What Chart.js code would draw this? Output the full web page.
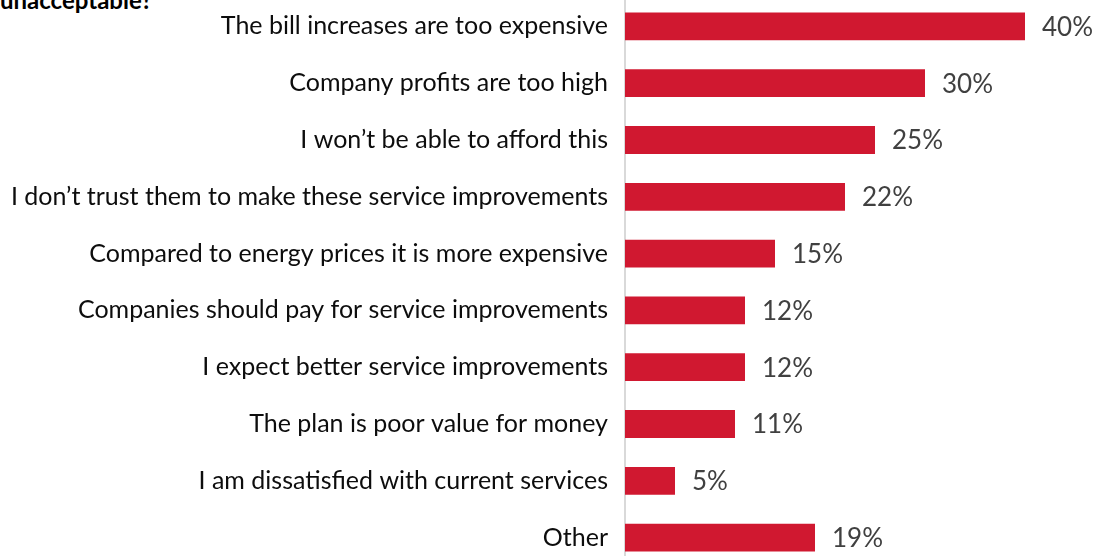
<!DOCTYPE html>
<html>
<head>
<meta charset="utf-8">
<script src="https://cdn.jsdelivr.net/npm/chart.js@4.4.1/dist/chart.umd.min.js"></script>
<style>
  html, body { margin: 0; padding: 0; background: #fff; }
  #wrap { position: relative; width: 1110px; height: 556px; overflow: hidden; }
  #title { position: absolute; left: 0; top: -12px; font: bold 24px Lato, sans-serif; line-height: 24px; color: #000; white-space: nowrap; }
  #chart { position: absolute; left: 0; top: -2px; }
</style>
</head>
<body>
<div id="wrap">
  <div id="title">unacceptable?</div>
  <canvas id="chart" width="1110" height="568"></canvas>
</div>
<script>
// reasons given, top to bottom
var reasons = [
    'The bill increases are too expensive',
    'Company profits are too high',
    'I won\u2019t be able to afford this',
    'I don\u2019t trust them to make these service improvements',
    'Compared to energy prices it is more expensive',
    'Companies should pay for service improvements',
    'I expect better service improvements',
    'The plan is poor value for money',
    'I am dissatisfied with current services',
    'Other'
];
var shares = [40, 30, 25, 22, 15, 12, 12, 11, 5, 19];

// draw "40%" etc. just past the end of each bar
var valueLabels = {
    id: 'valueLabels',
    afterDatasetsDraw: function(chart){
        var c = chart.ctx;
        var meta = chart.getDatasetMeta(0);
        c.save();
        c.font = '26px Lato, sans-serif';
        c.fillStyle = '#404040';
        c.textAlign = 'left';
        c.textBaseline = 'middle';
        meta.data.forEach(function(bar, i){
            c.fillText(shares[i] + '%', bar.x + 17, bar.y + 1);
        });
        c.restore();
    }
};

document.addEventListener('DOMContentLoaded', function(){
    var ctx = document.getElementById('chart');
    new Chart(ctx, {
        type: 'bar',
        data: {
            labels: reasons,
            datasets: [{
                data: shares,
                backgroundColor: '#d01830',
                borderWidth: 0,
                categoryPercentage: 1,
                barPercentage: 0.49
            }]
        },
        options: {
            indexAxis: 'y',
            responsive: false,
            animation: false,
            layout: { padding: 0 },
            plugins: { legend: { display: false }, tooltip: { enabled: false } },
            scales: {
                x: {
                    display: false,
                    min: 0,
                    max: 48.5
                },
                y: {
                    afterFit: function(axis){
                        axis.width = 625;
                        axis.paddingTop = 0;
                        axis.paddingBottom = 0;
                    },
                    grid: { display: false, drawTicks: false },
                    border: { color: '#d9d9d9', width: 2 },
                    ticks: {
                        color: '#0d0d0d',
                        font: { family: 'Lato', size: 25 },
                        padding: 17
                    }
                }
            }
        },
        plugins: [valueLabels]
    });
});
</script>
</body>
</html>
